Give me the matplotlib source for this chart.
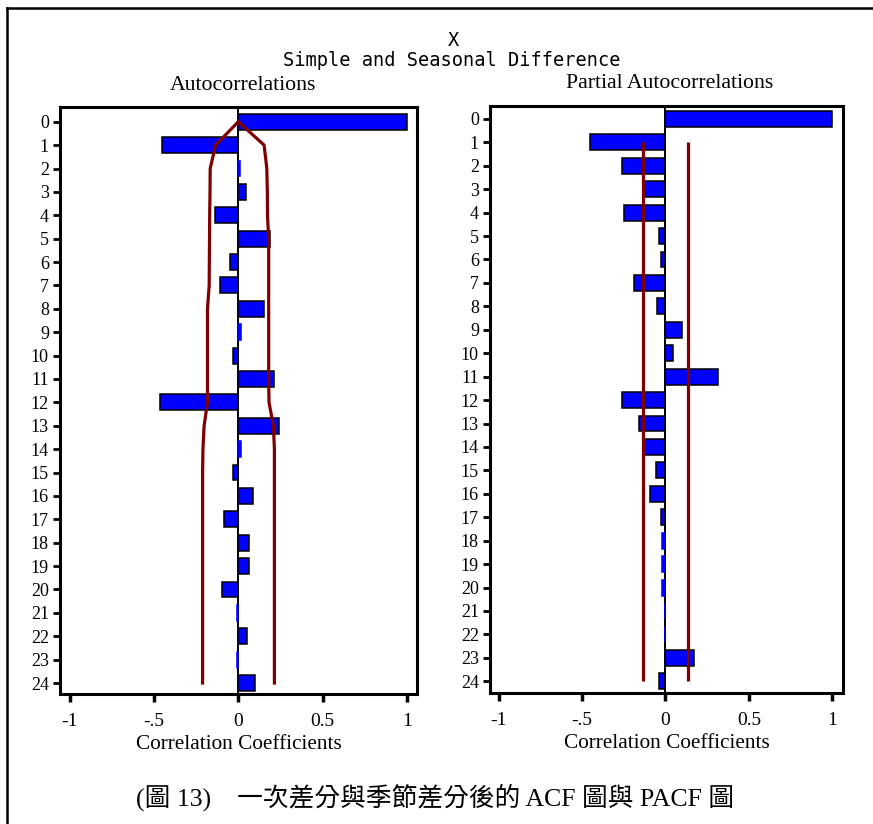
import matplotlib
matplotlib.use("Agg")
import matplotlib.pyplot as plt
from matplotlib.lines import Line2D

# Lags 0..24
lags = list(range(25))
lag_labels = [str(k) for k in lags]

# Sample autocorrelations of the simple + seasonal difference
acf_values = [1.00, -0.45, 0.008, 0.044, -0.14, 0.185, -0.051, -0.107, 0.153, 0.016,
              -0.03, 0.21, -0.466, 0.244, 0.016, -0.03, 0.085, -0.085, 0.064, 0.064,
              -0.097, -0.01, 0.054, -0.01, 0.098]

# Approximate 95% confidence limits for the autocorrelations
acf_upper = [0.0, 0.153, 0.169, 0.172, 0.173, 0.180, 0.180, 0.180, 0.180, 0.180,
             0.180, 0.180, 0.182, 0.208, 0.214, 0.214, 0.214, 0.214, 0.214, 0.214,
             0.214, 0.214, 0.214, 0.214, 0.214]
acf_lower = [0.0, -0.135, -0.167, -0.168, -0.170, -0.171, -0.172, -0.173, -0.183, -0.183,
             -0.183, -0.183, -0.183, -0.203, -0.210, -0.212, -0.212, -0.212, -0.212, -0.212,
             -0.212, -0.212, -0.212, -0.212, -0.212]

# Sample partial autocorrelations
pacf_values = [1.00, -0.455, -0.263, -0.122, -0.251, -0.038, -0.024, -0.186, -0.048, 0.10,
               0.042, 0.313, -0.263, -0.16, -0.126, -0.058, -0.094, -0.026, -0.018, -0.018,
               -0.018, -0.005, -0.002, 0.17, -0.038]
pacf_band = 0.135

x_ticks = [-1, -0.5, 0, 0.5, 1]
x_tick_labels = ["-1", "-.5", "0", "0.5", "1"]

BLUE = "#0000ff"
RED = "#800000"
SERIF = "Liberation Serif"

W, H = 873, 824
fig = plt.figure(figsize=(W / 100, H / 100), dpi=100)
fig.patch.set_facecolor("white")


def fx(px):
    return px / W


def fy(py):
    return 1 - py / H


# Page border (left and top edges)
fig.add_artist(Line2D([fx(7), fx(7)], [0, fy(8)], transform=fig.transFigure,
                      color="black", lw=1.8))
fig.add_artist(Line2D([fx(7), 1], [fy(8), fy(8)], transform=fig.transFigure,
                      color="black", lw=1.8))


def style_axes(ax, xlim, ylim):
    ax.set_xlim(*xlim)
    ax.set_ylim(*ylim)
    ax.set_yticks(lags)
    ax.set_yticklabels(lag_labels, family=SERIF, fontsize=13)
    ax.set_xticks(x_ticks)
    ax.set_xticklabels(x_tick_labels, family=SERIF, fontsize=14)
    ax.tick_params(axis="y", direction="out", length=5, width=2, pad=3)
    ax.tick_params(axis="x", direction="out", length=6, width=2.5, pad=8)
    for side in ["left", "top", "right", "bottom"]:
        ax.spines[side].set_linewidth(2.2)
        ax.spines[side].set_color("black")
    ax.set_xlabel("Correlation Coefficients", family=SERIF, fontsize=15.3, labelpad=3)


def draw_bars(ax, values):
    # very small coefficients show only as a thin blue sliver
    edges = ["black" if abs(v) >= 0.022 else BLUE for v in values]
    ax.barh(lags, values, height=0.68, color=BLUE, edgecolor=edges,
            linewidth=1.1, zorder=2)
    ax.axvline(0, color="black", lw=1.4, zorder=1.5)


# Autocorrelations panel
ax1 = fig.add_axes([fx(60), fy(694), fx(417) - fx(60), fy(107) - fy(694)])
style_axes(ax1, (-1.058, 1.06), (24.47, -0.63))
draw_bars(ax1, acf_values)
ax1.plot(acf_upper, lags, color=RED, lw=2.3, zorder=4)
ax1.plot(acf_lower, lags, color=RED, lw=2.3, zorder=4)

# Partial autocorrelations panel
ax2 = fig.add_axes([fx(490), fy(693), fx(843) - fx(490), fy(106) - fy(693)])
style_axes(ax2, (-1.051, 1.063), (24.5, -0.55))
draw_bars(ax2, pacf_values)
ax2.vlines([-pacf_band, pacf_band], lags[1], lags[-1], color=RED, lw=2.3, zorder=4)

# Titles
fig.text(fx(453), fy(41), "X", family="DejaVu Sans Mono", fontsize=13.4,
         ha="center", va="center")
fig.text(fx(452), fy(60), "Simple and Seasonal Difference", family="DejaVu Sans Mono",
         fontsize=13.4, ha="center", va="center")
fig.text(fx(243), fy(85), "Autocorrelations", family=SERIF, fontsize=15.7,
         ha="center", va="center")
fig.text(fx(670), fy(84), "Partial Autocorrelations", family=SERIF, fontsize=15.7,
         ha="center", va="center")

# Caption
fig.text(fx(435), fy(797), "(圖 13)    一次差分與季節差分後的 ACF 圖與 PACF 圖",
         family=[SERIF, "Noto Sans CJK TC"], fontsize=18.5, ha="center", va="center")

fig.savefig("out.png", dpi=100, facecolor="white")
